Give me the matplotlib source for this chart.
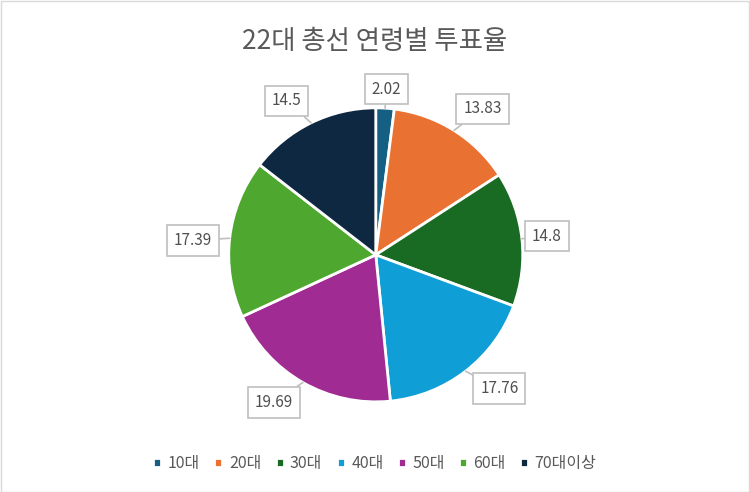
import numpy as np
import matplotlib
matplotlib.use("Agg")
import matplotlib.pyplot as plt
from matplotlib.patches import Rectangle

plt.rcParams['font.family'] = ['Noto Sans CJK KR', 'DejaVu Sans']

# data
groups = ['10대', '20대', '30대', '40대', '50대', '60대', '70대이상']
turnout = [2.02, 13.83, 14.8, 17.76, 19.69, 17.39, 14.5]
colors = ['#156082', '#E97132', '#196B24', '#0F9ED5', '#A02B93', '#4EA72E', '#0E2841']

# label distance from centre (in radii), tuned by eye
label_r = [1.13, 1.23, 1.17, 1.24, 1.22, 1.25, 1.21]
label_da = [0, -4, 0, 5, -5, 2, 4]   # small angle nudges in degrees

fig = plt.figure(figsize=(7.5, 4.92), dpi=100)
fig.patches.append(Rectangle((0.001, 0.001), 0.998, 0.997, transform=fig.transFigure,
                             fill=False, edgecolor='#d9d9d9', linewidth=1))

ax = fig.add_axes([0.305, 0.183, 0.392, 0.598])
wedges, _ = ax.pie(turnout, colors=colors, startangle=90, counterclock=False,
                   radius=1.0, wedgeprops=dict(edgecolor='white', linewidth=2))
ax.set_xlim(-1, 1)
ax.set_ylim(-1, 1)
ax.set_aspect('equal')

total = sum(turnout)
cum = 0
for i, v in enumerate(turnout):
    mid = 90 - 360 * (cum + v / 2) / total
    cum += v
    a = np.deg2rad(mid + label_da[i])
    tx, ty = label_r[i] * np.cos(a), label_r[i] * np.sin(a)
    ex, ey = np.cos(np.deg2rad(mid)), np.sin(np.deg2rad(mid))
    ax.annotate(f'{v:g}', xy=(ex, ey), xytext=(tx, ty), ha='center', va='center',
                fontsize=11, color='#505050', annotation_clip=False,
                bbox=dict(boxstyle='square,pad=0.45', fc='white', ec='#bfbfbf', lw=1.2),
                arrowprops=dict(arrowstyle='-', color='#bfbfbf', lw=1.2,
                                shrinkA=0, shrinkB=0))

fig.text(0.5, 0.915, '22대 총선 연령별 투표율', ha='center', va='center',
         fontsize=19, color='#595959')

fig.legend(wedges, groups, loc='center', bbox_to_anchor=(0.5, 0.057), ncol=7,
           frameon=False, fontsize=11.5, labelcolor='#595959', handlelength=0.5,
           handleheight=0.5, handletextpad=0.4, columnspacing=0.9)

fig.savefig('out.png', dpi=100)
